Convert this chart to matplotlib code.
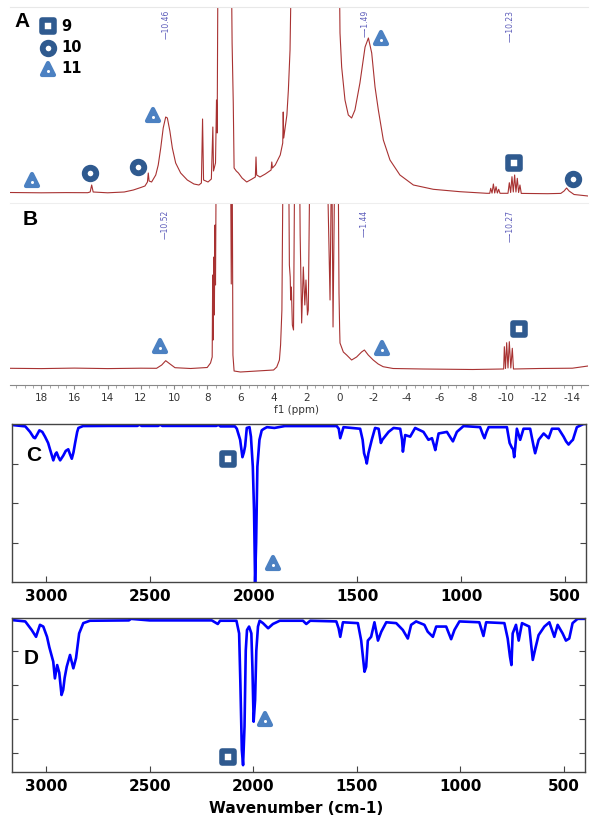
import matplotlib
matplotlib.use("Agg")
import matplotlib.pyplot as plt
from matplotlib.markers import MarkerStyle
from matplotlib.transforms import offset_copy

plt.rcParams['axes.unicode_minus'] = False

# ---- 1H NMR, panel A (ppm, intensity)
nmr_a_ppm = [19.9, 18.0, 16.5, 15.2, 15.05, 14.96, 14.87, 14.0, 13.0, 12.45, 12.0, 11.75, 11.6, 11.55,
             11.5, 11.35, 11.1, 10.95, 10.8, 10.65, 10.5, 10.4, 10.25, 10.1, 9.9, 9.6, 9.2, 8.8, 8.5,
             8.35, 8.28, 8.22, 7.95, 7.75, 7.66, 7.62, 7.5, 7.44, 7.4, 7.35, 6.55, 6.5, 6.43, 6.38,
             6.25, 6.12, 5.9, 5.62, 5.3, 5.1, 5.06, 5.02, 4.82, 4.5, 4.15, 4.11, 4.07, 3.9, 3.6, 3.45,
             3.42, 3.39, 3.2, 3.11, 3.01, 2.92, 0.05, 0.0, -0.1, -0.3, -0.5, -0.7, -0.9, -1.2, -1.51,
             -1.71, -1.91, -2.11, -2.31, -2.61, -3.01, -3.61, -4.42, -5.62, -7.23, -8.84, -9.02, -9.08,
             -9.16, -9.24, -9.32, -9.4, -9.48, -9.56, -9.64, -10.12, -10.2, -10.28, -10.36, -10.44,
             -10.52, -10.6, -10.68, -10.76, -10.84, -10.92, -12.5, -13.3, -13.5, -13.65, -13.8, -14.1,
             -14.94]
nmr_a_int = [10.5, 10.2, 10.4, 10.3, 11, 18, 11, 10.2, 11, 13, 15.5, 17, 21, 30,
             22, 21, 28, 38, 55, 75, 86, 85, 72, 55, 40, 30, 23, 19, 18,
             20, 84, 23, 21, 24, 76, 32, 40, 103, 70, 250, 250, 160, 100, 35,
             32, 30, 25, 21, 24, 26, 46, 28, 26, 29, 33, 41, 35, 38, 48, 60,
             91, 65, 88, 113, 153, 250, 250, 170, 136, 103, 88, 85, 93, 120, 156,
             165, 150, 116, 93, 63, 43, 28, 18, 13.7, 11.3, 9.7, 9.7, 14.7,
             9.9, 19, 10, 16.3, 10, 13.7, 9.7, 9.7, 20.3, 10.5, 26.3, 11,
             28, 11, 24.7, 10.5, 18, 9.6, 9.3, 9.6, 12, 15, 12, 8.5,
             7]

# ---- 1H NMR, panel B
nmr_b_ppm = [19.88, 18.0, 16.0, 14.0, 12.0, 11.05, 10.74, 10.5, 10.24, 9.94, 9.0, 8.0, 7.8, 7.7,
             7.67, 7.64, 7.6, 7.57, 7.53, 7.5, 7.45, 6.6, 6.55, 6.5, 6.45, 6.38, 6.0, 5.0, 4.0, 3.81,
             3.65, 3.58, 3.55, 3.5, 3.42, 3.1, 3.05, 3.0, 2.97, 2.93, 2.87, 2.8, 2.72, 2.45, 2.4,
             2.31, 2.21, 2.12, 2.05, 1.96, 1.91, 1.8, 0.8, 0.6, 0.5, 0.42, 0.3, 0.12, 0.06, 0.02,
             0.0, -0.2, -0.4, -0.7, -1.0, -1.3, -1.47, -1.7, -2.0, -2.3, -2.6, -3.2, -5.0, -8.0,
             -9.8, -9.86, -9.9, -9.97, -10.04, -10.12, -10.2, -10.29, -10.38, -10.45, -12.0, -14.0,
             -14.94]
nmr_b_int = [16.7, 16.4, 16.9, 16.4, 16.8, 16.7, 20, 24.3, 21, 17.3, 16.5, 17.5, 22, 28,
             110, 45, 128, 70, 160, 100, 250, 250, 101, 250, 30, 14, 13, 14, 15, 18,
             25, 40, 53, 75, 250, 250, 120, 108, 85, 98, 60, 55, 250, 250, 150,
             62, 118, 80, 105, 70, 75, 250, 250, 85, 250, 58, 250, 250, 92, 55,
             42, 33, 30, 25, 28, 33, 35, 30, 25, 21, 18.3, 16.5, 16, 15.5,
             16, 16, 38.3, 16.5, 42.3, 17, 43.3, 17, 36.7, 16, 16.5, 16.8,
             19]

# ---- IR, panel C (wavenumber, %T)
ir_c_wn = [3165, 3100, 3077, 3060, 3053, 3040, 3032, 3018, 3005, 2990, 2981, 2965, 2955, 2949, 2940,
           2932, 2917, 2905, 2893, 2885, 2876, 2868, 2860, 2850, 2844, 2822, 2700, 2560, 2550, 2540,
           2460, 2450, 2440, 2180, 2170, 2160, 2090, 2081, 2065, 2054, 2047, 2041, 2033, 2020, 2013,
           2004, 1998, 1993, 1988, 1982, 1972, 1961, 1950, 1936, 1900, 1850, 1600, 1590, 1583, 1567,
           1487, 1475, 1468, 1460, 1455, 1450, 1447, 1431, 1415, 1398, 1387, 1380, 1374, 1350, 1326,
           1294, 1285, 1281, 1275, 1270, 1246, 1222, 1182, 1158, 1141, 1130, 1125, 1109, 1069, 1050,
           1040, 1021, 989, 909, 895, 888, 878, 868, 780, 767, 756, 750, 745, 740, 732, 716, 700, 668,
           650, 644, 635, 627, 603, 579, 563, 531, 507, 495, 483, 470, 462, 443, 411, 399]
ir_c_t = [99.4, 98.5, 95, 91.5, 91, 94, 96, 95, 92, 88, 84, 77, 81, 82, 79,
          77, 80, 83, 84, 81, 78, 82, 88, 95, 97.5, 98.7, 98.8, 98.8, 99.6, 98.8,
          98.8, 99.6, 98.8, 98.8, 99.5, 98.5, 98.5, 97, 90, 79, 82, 86, 97.5, 98, 92,
          73, 45, 0, 25, 73, 90, 96, 97, 98, 97.5, 98.7, 98.7, 97, 91, 98,
          97, 90, 81.5, 78, 75, 79, 81.5, 90, 97.5, 97, 88, 90, 91, 95, 97.5,
          97, 90, 82.5, 88, 93, 92, 97.5, 95, 90, 91, 86, 83.5, 94, 95, 91,
          89, 95, 98.7, 98, 93, 91, 95, 98, 98, 88, 85, 84, 79, 85, 97, 90, 97, 97,
          85, 81.5, 86, 90, 94, 91, 97, 97, 92, 89, 87, 89, 90, 98, 100, 100]

# ---- IR, panel D
ir_d_wn = [3165, 3100, 3069, 3048, 3040, 3029, 3013, 2995, 2984, 2965, 2957, 2946, 2936, 2925, 2917,
           2910, 2900, 2884, 2868, 2855, 2840, 2820, 2788, 2600, 2590, 2500, 2200, 2171, 2160, 2081,
           2068, 2062, 2055, 2049, 2042, 2036, 2030, 2020, 2009, 2004, 1998, 1991, 1985, 1977, 1969,
           1953, 1928, 1905, 1872, 1760, 1744, 1725, 1599, 1588, 1580, 1567, 1495, 1479, 1463, 1455,
           1447, 1431, 1415, 1398, 1382, 1358, 1310, 1278, 1254, 1238, 1214, 1174, 1158, 1133, 1117,
           1069, 1045, 1029, 1005, 909, 889, 876, 788, 772, 761, 754, 748, 732, 719, 703, 668, 651,
           639, 623, 595, 571, 547, 531, 507, 491, 475, 459, 435, 419, 399]
ir_d_t = [97.8, 97, 92, 88, 91, 95, 94, 88, 82, 73.5, 63.7, 71.5, 67, 54, 57,
          64, 70.5, 77.4, 69.6, 75.6, 90, 96, 97.4, 97.6, 98.5, 97.6, 97.6, 95.5, 97.4, 97.4,
          90, 61, 22, 13, 35.5, 80, 92, 94, 90, 70.5, 38.4, 51, 80, 94, 97.4,
          96, 93, 95.5, 97.4, 97.4, 95.5, 97.4, 97, 93, 88, 96.5, 96, 85.8, 67.6, 70.5,
          85.8, 88, 96.5, 85.8, 91, 96.5, 96, 92, 87, 95, 97, 95, 91, 88, 94,
          94, 86.6, 92, 97, 96.5, 88.5, 96.5, 96, 87, 76.4, 71.5, 90, 95, 85.8, 96, 94, 74.5,
          81, 89, 94, 96.5, 88, 95, 90, 85.8, 87, 96, 98.5, 98.5, 98.5]

# peak labels
labels_a = [(10.46, '10.46'), (-1.49, '-1.49'), (-10.23, '-10.23')]
labels_b = [(10.52, '10.52'), (-1.44, '-1.44'), (-10.27, '-10.27')]

# compound markers: (kind, x, y)
marks_a = [('tri', 18.55, 23), ('circ', 15.06, 30), ('circ', 12.17, 36), ('tri', 11.27, 88),
           ('tri', -2.47, 165), ('sq', -10.48, 40), ('circ', -14.04, 24)]
marks_b = [('tri', 10.84, 39), ('tri', -2.53, 37), ('sq', -10.78, 56)]
marks_c = [('sq', 2123, 77.8), ('tri', 1906, 12)]
marks_d = [('tri', 1945, 40), ('sq', 2123, 17.8)]

NAVY = '#2f5a8f'
LBLUE = '#4c81c2'
RED = '#a83232'
PEAKTXT = '#5c5cba'

fig = plt.figure(figsize=(6, 8.21), dpi=100)
H = 821.0
W = 600.0


def box(x0, y0, x1, y1):
    return [x0 / W, 1 - y1 / H, (x1 - x0) / W, (y1 - y0) / H]


def mark(ax, kind, x, y, trans=None):
    if trans is None:
        trans = ax.transData
    if kind == 'sq':
        ax.plot(x, y, marker=MarkerStyle('s', joinstyle='round'), ms=8.3, mfc='white',
                mec=NAVY, mew=4, transform=trans, clip_on=False, zorder=5)
    elif kind == 'circ':
        ax.plot(x, y, marker='o', ms=8.3, mfc='white', mec=NAVY, mew=4.2,
                transform=trans, clip_on=False, zorder=5)
    else:
        ax.plot(x, y, marker=MarkerStyle('^', joinstyle='round'), ms=8.5, mfc=LBLUE,
                mec=LBLUE, mew=3, transform=trans, clip_on=False, zorder=5)
        dt = offset_copy(trans, fig=fig, x=0, y=-1.4, units='points')
        ax.plot(x, y, marker='o', ms=2.2, mfc='white', mec='white', mew=0,
                transform=dt, clip_on=False, zorder=6)


# ---------- NMR A
axA = fig.add_axes(box(10, 7, 588, 203))
axA.plot(nmr_a_ppm, nmr_a_int, color=RED, lw=0.8)
axA.set_xlim(19.88, -14.94)
axA.set_ylim(0, 196)
axA.set_xticks([])
axA.set_yticks([])
for s in ['left', 'right', 'bottom']:
    axA.spines[s].set_visible(False)
axA.spines['top'].set_color('#e8e8e8')
for x, t in labels_a:
    axA.text(x, 193, '\u2014' + t, rotation=90, ha='center', va='top', fontsize=5.5, color=PEAKTXT)
for k, x, y in marks_a:
    mark(axA, k, x, y)
axA.text(0.021, 0.925, 'A', transform=axA.transAxes, fontsize=15, fontweight='bold',
         ha='center', va='center', family='Liberation Sans')
for i, (k, t) in enumerate([('sq', '9'), ('circ', '10'), ('tri', '11')]):
    yy = [0.903, 0.791, 0.684][i]
    mark(axA, k, 0.0657, yy, trans=axA.transAxes)
    axA.text(0.088, yy, t, transform=axA.transAxes, fontsize=10.5, fontweight='bold',
             ha='left', va='center')

# ---------- NMR B
axB = fig.add_axes(box(10, 203, 588, 385))
axB.plot(nmr_b_ppm, nmr_b_int, color=RED, lw=0.8)
axB.set_xlim(19.88, -14.94)
axB.set_ylim(0, 182)
axB.set_yticks([])
for s in ['left', 'right']:
    axB.spines[s].set_visible(False)
axB.spines['top'].set_color('#eeeeee')
axB.spines['bottom'].set_color('#888888')
axB.set_xticks(range(18, -15, -2))
axB.set_xticks([v * 0.5 for v in range(39, -30, -1)], minor=True)
axB.tick_params(axis='x', which='major', direction='out', length=3, color='#888888',
                labelsize=7.5, labelcolor='#333333', pad=3)
axB.tick_params(axis='x', which='minor', direction='out', length=2, color='#999999')
for x, t in labels_b:
    axB.text(x, 175, '\u2014' + t, rotation=90, ha='center', va='top', fontsize=5.5, color=PEAKTXT)
for k, x, y in marks_b:
    mark(axB, k, x, y)
axB.text(0.035, 0.907, 'B', transform=axB.transAxes, fontsize=15, fontweight='bold',
         ha='center', va='center', family='Liberation Sans')
fig.text(296 / W, 1 - 410 / H, 'f1 (ppm)', fontsize=7.5, color='#333333', ha='center', va='center')

# ---------- IR C and D
def ir_axes(rect, wn, t, ylim, yt, letter, lpos, marks):
    ax = fig.add_axes(rect)
    ax.plot(wn, t, color='#0000ff', lw=1.9)
    ax.set_xlim(3164, 399)
    ax.set_ylim(*ylim)
    ax.set_xticks([3000, 2500, 2000, 1500, 1000, 500])
    ax.set_yticks(yt)
    ax.set_yticklabels([])
    ax.tick_params(direction='in', length=4, left=True, right=True, bottom=True, top=False,
                   labelsize=11, pad=5, color='#444444')
    for lab in ax.get_xticklabels():
        lab.set_fontweight('bold')
    for s in ax.spines.values():
        s.set_color('#444444')
        s.set_linewidth(1.0)
    ax.text(lpos[0], lpos[1], letter, transform=ax.transAxes, fontsize=15, fontweight='bold',
            ha='center', va='center', family='Liberation Sans')
    for k, x, y in marks:
        mark(ax, k, x, y)
    return ax


axC = ir_axes(box(12, 424, 586, 582), ir_c_wn, ir_c_t, (0, 100), [25, 50, 75], 'C',
              (0.037, 0.80), marks_c)
axD = ir_axes(box(12, 618, 585, 772), ir_d_wn, ir_d_t, (9, 99), [20, 40, 60, 80], 'D',
              (0.033, 0.74), marks_d)
fig.text(296 / W, 1 - 808 / H, 'Wavenumber (cm-1)', fontsize=11, fontweight='bold',
         ha='center', va='center')

fig.savefig('out.png', dpi=100, facecolor='white')
